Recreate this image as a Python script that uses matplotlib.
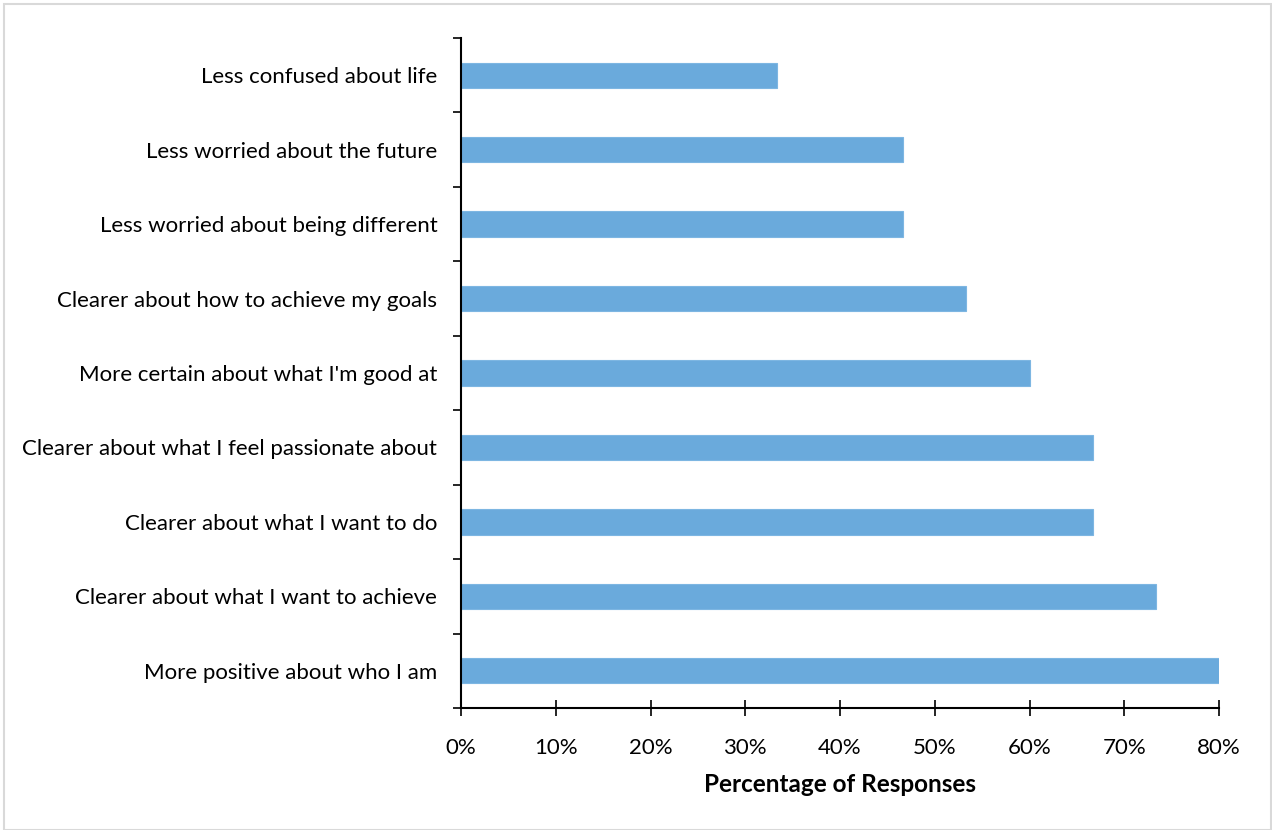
import matplotlib.pyplot as plt
import numpy as np
from matplotlib.ticker import FixedLocator, PercentFormatter
from matplotlib.patches import Rectangle

categories = [
    "More positive about who I am",
    "Clearer about what I want to achieve",
    "Clearer about what I want to do",
    "Clearer about what I feel passionate about",
    "More certain about what I'm good at",
    "Clearer about how to achieve my goals",
    "Less worried about being different",
    "Less worried about the future",
    "Less confused about life",
]
# share of 15 respondents, in percent
values = [80.0, 73.33, 66.67, 66.67, 60.0, 53.33, 46.67, 46.67, 33.33]

plt.rcParams['font.family'] = ['Lato', 'DejaVu Sans']

fig = plt.figure(figsize=(12.72, 8.30), dpi=100)
fig.patches.append(Rectangle((0.003, 0.0), 0.996, 0.995, transform=fig.transFigure,
                             fill=False, edgecolor='#d9d9d9', linewidth=1.5))
ax = fig.add_axes([0.3624, 0.147, 0.596, 0.8072])

y = np.arange(len(categories))
ax.barh(y, values, height=0.34, color='#6aaadc', edgecolor='#7db6e2', linewidth=0.8)

ax.set_xlim(0, 80)
ax.set_ylim(-0.5, len(categories) - 0.5)
ax.set_xticks(np.arange(0, 81, 10))
ax.xaxis.set_major_formatter(PercentFormatter(decimals=0))
ax.set_yticks(y)
ax.set_yticklabels(categories)
ax.yaxis.set_minor_locator(FixedLocator(np.arange(-0.5, len(categories), 1.0)))

ax.tick_params(axis='y', which='major', length=0, pad=17, labelsize=16)
ax.tick_params(axis='y', which='minor', length=6, width=1.2, color='black')
ax.tick_params(axis='x', which='major', direction='inout', length=11, width=1.2,
               labelsize=16, pad=16)

for s in ['top', 'right']:
    ax.spines[s].set_visible(False)
ax.spines['left'].set_linewidth(1.5)
ax.spines['bottom'].set_linewidth(1.5)

ax.set_xlabel('Percentage of Responses', fontsize=17.5, fontweight='bold', labelpad=11)

fig.savefig('out.png', dpi=100)
